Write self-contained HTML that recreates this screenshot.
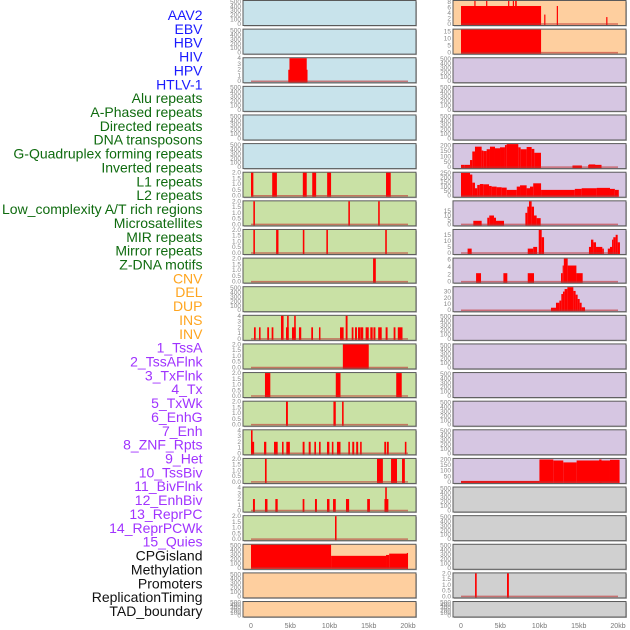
<!DOCTYPE html>
<html><head><meta charset="utf-8">
<style>
html,body{margin:0;padding:0;background:#fff;}
svg{display:block;font-family:"Liberation Sans",sans-serif;}
</style></head>
<body>
<svg id="chart" width="630" height="630" viewBox="0 0 630 630" xmlns="http://www.w3.org/2000/svg">
<g id="labels"></g>
<g id="panels"></g>
<g id="xaxis"></g>
</svg>
<script>
// ---- Data ----
const trackLabels = ["AAV2","EBV","HBV","HIV","HPV","HTLV-1","Alu repeats","A-Phased repeats","Directed repeats","DNA transposons","G-Quadruplex forming repeats","Inverted repeats","L1 repeats","L2 repeats","Low_complexity A/T rich regions","Microsatellites","MIR repeats","Mirror repeats","Z-DNA motifs","CNV","DEL","DUP","INS","INV","1_TssA","2_TssAFlnk","3_TxFlnk","4_Tx","5_TxWk","6_EnhG","7_Enh","8_ZNF_Rpts","9_Het","10_TssBiv","11_BivFlnk","12_EnhBiv","13_ReprPC","14_ReprPCWk","15_Quies","CPGisland","Methylation","Promoters","ReplicationTiming","TAD_boundary"];
const labelGroups = [6,13,5,15,5];
const xTickValues = [0,5,10,15,20];
const xTickLabels = ["0","5kb","10kb","15kb","20kb"];

// bars: [startKb, endKb, value]
const leftHIV = [[4.75,7.2,2],[4.9,7.1,4]];
const leftL1 = [[0,0.3,2],[2.7,3.3,2],[6.6,7.1,2],[7.8,8.3,2],[9.7,10.2,2],[17.2,17.8,2]];
const leftL2 = [[0.3,0.5,2],[12.4,12.6,2],[16.2,16.4,2]];
const leftLowComplex = [[0.3,0.5,2],[3.2,3.5,2],[6.6,6.8,2],[9.6,9.8,2],[17.1,17.3,2]];
const leftMicrosat = [[15.55,15.9,2]];
const leftMirror = [[0.38,0.6,2],[1.02,1.22,2],[2.07,2.3,2],[2.63,2.85,2],[3.82,4.15,4],[4.46,4.8,2],[4.6,4.8,4],[5.22,5.7,2],[5.5,5.7,4],[6.11,6.4,2],[7.68,7.9,2],[8.66,8.85,2],[11.34,11.8,2],[12.06,12.3,4],[12.83,13.05,2],[13.25,13.5,2],[13.63,13.9,2],[13.92,14.3,2],[14.6,15.0,2],[15.2,15.5,2],[15.6,15.85,2],[16.2,16.65,2],[17.15,17.4,2],[18.17,18.4,2],[18.7,19.3,2]];
const leftINS = [[11.7,15.0,2]];
const leftINV = [[1.78,2.46,2],[10.8,11.4,2],[18.5,19.2,2]];
const leftTssA = [[4.46,4.7,2],[10.5,10.8,2],[11.6,11.8,2]];
const leftTssAFlnk = [[0,0.4,2],[0,0.2,4],[1.66,1.95,2],[2.93,3.4,2],[3.95,4.15,2],[4.5,4.95,2],[6.58,6.82,2],[7.35,7.6,2],[8.07,8.28,2],[8.66,8.87,2],[9.68,9.98,2],[10.3,10.5,2],[10.95,11.4,2],[12.4,12.6,2],[12.9,13.15,2],[13.4,13.65,2],[13.9,14.1,2],[16.98,17.2,2],[17.3,17.55,2],[19.6,19.8,2]];
const leftTxFlnk = [[1.78,1.99,2],[16.05,16.8,2],[17.84,18.6,2],[19.24,19.6,2]];
const leftTx = [[0.25,0.5,2],[1.78,2.1,2],[3.1,3.4,2],[6.58,6.8,2],[8.15,8.4,2],[9.68,10.0,2],[10.45,10.8,2],[12.1,12.5,2],[14.8,15.15,2],[17.0,17.5,2],[17.1,17.3,4]];
const leftTxWk = [[10.7,10.9,2]];
const leftCPG = [[0,10.2,560],[10.2,17.2,270],[17.2,17.6,290],[17.6,20.0,320],[19.85,20.0,335]];
const rightAAV2 = [[0,10.2,6.5],[1.7,1.85,10],[3.2,3.35,10],[6.0,6.15,10],[6.6,6.75,10],[6.9,7.1,10],[10.6,10.75,3.4],[12.2,12.35,6.5],[18.5,18.65,2.5]];
const rightEBV = [[0,10.2,17]];
const rightGQuad = [[0,0.47,21],[0.47,1.15,21],[1.15,1.44,66],[1.44,1.78,146],[1.78,2.63,191],[2.63,2.84,155],[2.84,3.27,150],[3.27,3.69,167],[3.69,4.33,191],[4.33,4.97,176],[4.97,5.6,185],[5.6,5.82,206],[5.82,7.3,215],[7.3,7.6,185],[7.6,8.36,167],[8.36,9.0,188],[9.0,9.34,170],[9.34,10.19,134],[14.2,15.4,15],[16.2,17.9,21],[16.3,17.1,25]];
const rightInverted = [[0,1.15,250],[1.15,1.44,232],[1.44,1.78,143],[1.78,2.07,82],[2.07,2.4,118],[2.4,2.84,128],[2.84,3.57,125],[3.57,3.9,107],[3.9,4.54,100],[4.54,5.18,93],[5.18,5.82,89],[5.82,7.1,64],[7.1,7.52,100],[7.52,8.36,114],[8.36,8.79,82],[8.79,9.2,100],[9.2,10.2,136],[10.2,14.5,64],[14.5,15.37,75],[15.37,17.28,82],[17.28,18.98,86],[18.98,19.6,75],[19.6,20.1,64]];
const rightL1 = [[1.57,2.63,4],[3.35,3.6,7.5],[3.6,4.2,10],[4.2,4.46,7.5],[4.46,5.48,4],[8.2,8.45,13],[8.45,8.66,20],[8.66,9.0,26],[9.0,9.3,20],[9.3,9.64,10],[9.64,10.15,7]];
const rightL2 = [[0.84,1.36,3.6],[8.5,9.2,3.6],[9.2,9.7,5],[9.9,10.28,19],[10.28,10.58,13],[16.3,16.56,5],[16.56,16.86,11],[16.86,17.2,8.8],[17.2,18.0,5],[18.0,18.2,3.6],[18.7,18.98,3.6],[18.98,19.24,5],[19.24,19.4,11],[19.4,19.7,13],[19.7,19.96,15],[19.96,20.25,8.8]];
const rightLowComplex = [[1.92,2.55,2.3],[5.4,5.9,2.3],[8.5,9.3,2.3],[12.74,12.95,2.3],[12.95,13.1,4.4],[13.1,13.59,6.5],[13.59,14.7,4.4],[14.7,15.5,2.3]];
const rightMicrosat = [[11.46,12.1,4],[12.1,12.53,12],[12.53,12.78,15.5],[12.78,12.99,26],[12.99,13.2,30],[13.2,13.55,34],[13.55,14.31,37],[14.31,14.6,31],[14.6,14.86,25],[14.86,15.12,18],[15.12,15.37,12],[15.37,15.8,4.6]];
const rightTssBiv = [[0,9.99,9],[9.99,11.76,200],[11.76,13.03,191],[13.03,14.73,174],[14.73,18.98,191],[17.6,17.9,200],[18.98,20.2,197]];
const rightRepTiming = [[1.79,2.0,2],[5.86,6.1,2]];

const ticksEmpty = [0,100,200,300,400,500];
const ticks2 = [0,0.5,1.0,1.5,2.0];
const ticks4 = [0,1,2,3,4];

const BLUE="#c8e3eb", GREEN="#c9e1a5", ORANGE="#fecf9f", PURPLE="#d6c6e2", GRAY="#d0d0d0";
const leftPanels = [
 [BLUE,520,ticksEmpty,0,null],[BLUE,520,ticksEmpty,0,null],[BLUE,4,ticks4,0,leftHIV],
 [BLUE,520,ticksEmpty,0,null],[BLUE,520,ticksEmpty,0,null],[BLUE,520,ticksEmpty,0,null],
 [GREEN,2,ticks2,1,leftL1],[GREEN,2,ticks2,1,leftL2],[GREEN,2,ticks2,1,leftLowComplex],
 [GREEN,2,ticks2,1,leftMicrosat],[GREEN,520,ticksEmpty,0,null],[GREEN,4,ticks4,0,leftMirror],
 [GREEN,2,ticks2,1,leftINS],[GREEN,2,ticks2,1,leftINV],[GREEN,2,ticks2,1,leftTssA],
 [GREEN,4,ticks4,0,leftTssAFlnk],[GREEN,2,ticks2,1,leftTxFlnk],[GREEN,4,ticks4,0,leftTx],
 [GREEN,2,ticks2,1,leftTxWk],[ORANGE,520,ticksEmpty,0,leftCPG],[ORANGE,520,ticksEmpty,0,null],[ORANGE,520,ticksEmpty,0,null]
];
const rightPanels = [
 [ORANGE,8.3,[0,2,4,6,8],0,rightAAV2],[ORANGE,16.2,[0,5,10,15],0,rightEBV],
 [PURPLE,520,ticksEmpty,0,null],[PURPLE,520,ticksEmpty,0,null],[PURPLE,520,ticksEmpty,0,null],
 [PURPLE,215,[0,50,100,150,200],0,rightGQuad],[PURPLE,252,[0,50,100,150,200,250],0,rightInverted],
 [PURPLE,26,[0,5,10,15],0,rightL1],[PURPLE,19,[0,5,10,15],0,rightL2],[PURPLE,6.3,[0,2,4,6],0,rightLowComplex],
 [PURPLE,37,[0,10,20,30],0,rightMicrosat],[PURPLE,520,ticksEmpty,0,null],[PURPLE,520,ticksEmpty,0,null],
 [PURPLE,520,ticksEmpty,0,null],[PURPLE,520,ticksEmpty,0,null],[PURPLE,520,ticksEmpty,0,null],
 [PURPLE,205,[0,50,100,150,200],0,rightTssBiv],[GRAY,520,ticksEmpty,0,null],[GRAY,520,ticksEmpty,0,null],
 [GRAY,520,ticksEmpty,0,null],[GRAY,2,ticks2,1,rightRepTiming],[GRAY,520,ticksEmpty,0,null]
];

// ---- Rendering ----
const NS="http://www.w3.org/2000/svg";
function mk(tag, attrs, parent){const e=document.createElementNS(NS,tag);for(const k in attrs)e.setAttribute(k,attrs[k]);parent.appendChild(e);return e;}

const labelColors=["#1a1aff","#0f6b0f","#ffa51f","#a033ff","#111111"];
const labG=document.getElementById('labels');
let gi=0,cnt=0;
trackLabels.forEach((t,i)=>{
  while(cnt>=labelGroups[gi]){cnt=0;gi++;}
  cnt++;
  const el=mk('text',{x:202.5,y:15+i*13.86+5,'text-anchor':'end','font-size':'14',fill:labelColors[gi]},labG);
  el.textContent=t;
  
  
});

const colX=[{x0:243,x1:416,d0:251,d1:408,tx:241},{x0:453,x1:626,d0:461,d1:618,tx:451}];
const pg=document.getElementById('panels');
function drawColumn(panels, ci){
  const c=colX[ci];
  const xs=kb=>c.d0+(kb/20)*(c.d1-c.d0);
  panels.forEach((p,i)=>{
    const [bg,ymax,ticks,dec,bars]=p;
    const top=0.5+i*28.62, h=(i===21)?15.5:25;
    const g=mk('g',{},pg);
    
    
    mk('rect',{x:c.x0+1,y:top+1,width:c.x1-c.x0,height:h,fill:'#bbb'},g);
    mk('rect',{x:c.x0,y:top,width:c.x1-c.x0,height:h,fill:bg,stroke:'#5a5a5a','stroke-width':1},g);
    const yb=top+h-1.5, yt=top+0.5;
    const ys=v=>yb-(Math.min(v,ymax)/ymax)*(yb-yt);
    ticks.forEach(t=>{
      const tl=mk('text',{x:c.tx,y:ys(t)+2,'text-anchor':'end','font-size':'6.5',fill:'#888'},g);
      tl.textContent=dec?t.toFixed(dec):String(t);
      
      
    });
    if(bars){
      bars.forEach(b=>{
        const x0=xs(Math.max(0,b[0])), x1=xs(b[1]);
        const r=mk('rect',{x:x0,y:ys(b[2]),width:Math.max(1.2,x1-x0),height:yb-ys(b[2])+1,fill:'#ff0000'},g);
        
        
      });
      const bl=mk('line',{x1:xs(0),x2:xs(20),y1:yb,y2:yb,stroke:'#c03030','stroke-opacity':0.6,'stroke-width':1.5},g);
      
      
    }
  });
  const xa=document.getElementById('xaxis');
  xTickValues.forEach((v,k)=>{
    const t=mk('text',{x:xs(v),y:628,'text-anchor':'middle','font-size':'7',fill:'#777'},xa);
    t.textContent=xTickLabels[k];
    
    
  });
}
drawColumn(leftPanels,0);
drawColumn(rightPanels,1);
</script>
</body></html>
